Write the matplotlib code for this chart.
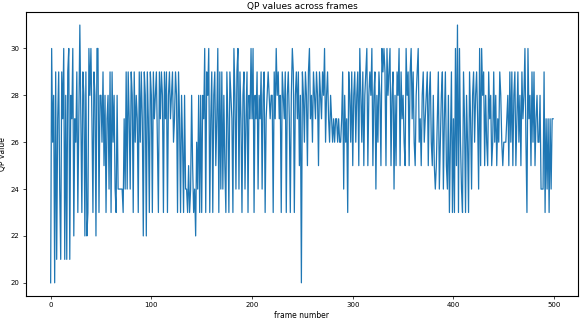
import matplotlib
matplotlib.use("Agg")
import matplotlib.pyplot as plt

qp_values = [
    20,30,26,28,20,29,21,27,29,24,
    21,29,27,30,21,28,21,29,30,21,
    28,27,30,22,27,26,29,23,27,31,
    27,23,29,28,22,29,22,23,30,28,
    30,27,23,29,28,22,30,30,23,28,
    28,26,29,25,28,23,27,28,24,29,
    23,29,26,28,24,23,28,24,24,24,
    24,24,23,27,24,29,24,29,27,24,
    29,28,23,29,26,28,27,23,29,26,
    29,27,22,29,28,22,29,27,23,29,
    28,23,29,27,28,29,26,23,29,27,
    29,28,23,29,27,29,23,28,29,27,
    28,29,26,27,29,28,23,29,27,23,
    28,26,23,28,24,24,23,25,23,24,
    28,25,23,24,22,26,24,28,23,28,
    23,28,27,30,23,29,28,30,23,27,
    29,23,28,29,25,27,30,23,29,24,
    29,24,28,25,23,29,27,23,29,28,
    27,23,30,28,24,29,30,24,29,27,
    23,28,29,24,27,29,23,28,27,30,
    27,30,23,28,27,29,24,28,27,29,
    24,28,29,23,27,28,29,28,27,28,
    28,23,29,27,30,28,29,27,28,23,
    29,28,27,29,23,28,29,27,23,28,
    30,29,23,28,29,27,29,25,28,20,
    29,28,26,29,28,25,29,30,27,28,
    26,29,28,27,29,28,25,29,28,27,
    29,28,30,26,28,29,27,26,28,27,
    26,27,26,27,27,26,27,26,26,27,
    29,24,28,26,27,23,29,28,26,29,
    25,28,29,26,28,29,25,30,28,26,
    29,25,28,29,30,25,28,29,28,30,
    25,28,29,24,28,26,29,28,25,30,
    29,30,29,25,30,28,29,30,25,28,
    29,24,28,25,29,28,30,25,29,27,
    28,26,25,30,28,29,25,29,30,27,
    29,26,25,28,29,30,26,27,25,28,
    29,26,27,28,29,25,28,29,26,25,
    28,25,24,25,27,29,24,26,28,29,
    24,27,29,25,24,28,23,26,29,23,
    27,23,30,25,31,23,30,26,24,23,
    29,27,23,28,26,23,29,27,24,28,
    29,26,28,29,27,24,30,25,30,28,
    29,25,28,26,25,29,27,28,25,26,
    29,26,28,25,27,26,29,28,26,25,
    26,26,26,27,28,25,29,26,29,25,
    28,29,25,27,29,26,28,25,29,27,
    28,30,26,23,30,27,28,25,29,26,
    29,25,27,28,26,26,28,24,24,24,
    29,23,27,24,27,23,27,24,27,27,
]
frames = list(range(len(qp_values)))

title = "QP values across frames"
xlabel = "frame number"
ylabel = "QP value"

fig = plt.figure(figsize=(5.8, 3.2), dpi=100)
ax = fig.add_axes([0.044, 0.076, 0.953, 0.886])
ax.plot(frames, qp_values, color="#1f77b4", linewidth=0.9)
ax.set_title(title, fontsize=6.5, pad=2)
ax.set_xlabel(xlabel, fontsize=5.5, labelpad=2.5)
ax.set_ylabel(ylabel, fontsize=5.5, labelpad=2)
ax.tick_params(labelsize=5, length=2, width=0.5, pad=2.5)
for s in ax.spines.values():
    s.set_linewidth(0.8)
fig.savefig("out.png", dpi=100)
